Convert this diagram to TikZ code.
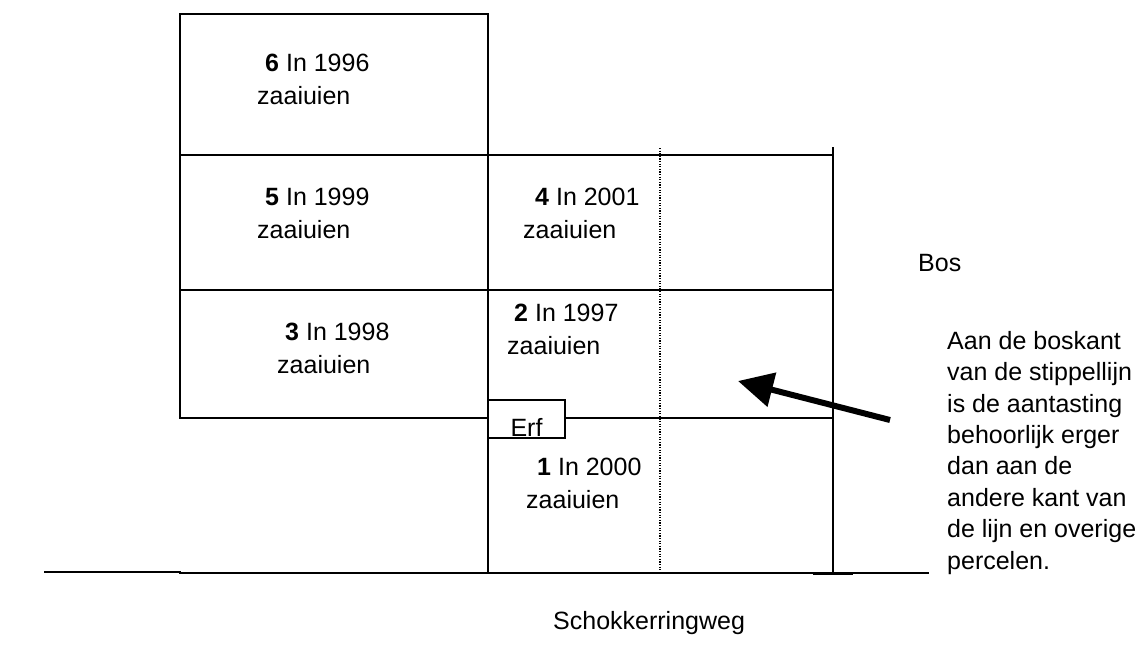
\documentclass[tikz,border=0pt]{standalone}
\usepackage{fontspec}
\setmainfont{Liberation Sans}
\usetikzlibrary{arrows.meta}
\begin{document}
\begin{tikzpicture}[x=1pt,y=-1pt,
  wall/.style={line width=1.6pt, line cap=rect},
  plotlbl/.style={font=\fontsize{25}{30}\selectfont, inner sep=0pt, anchor=base west},
  note/.style={font=\fontsize{25}{31.4}\selectfont, align=left, inner sep=0pt, anchor=base west}]
\useasboundingbox (0,0) rectangle (1142,662);
% parcel outlines
\draw[wall] (180,14) rectangle (488,155);
\draw[wall] (180,155) -- (833,155);
\draw[wall] (180,290) -- (833,290);
\draw[wall] (180,155) -- (180,418) -- (488,418);
\draw[wall] (565,418) -- (833,418);
\draw[wall] (488,155) -- (488,573);
\draw[wall] (833,148) -- (833,573);
% farmyard
\draw[wall] (488,400) rectangle (565,438);
\node[plotlbl, anchor=base] (erf) at (526.5,436) {Erf};
% boundary of the affected strip
\draw[line width=1.3pt, dash pattern=on 1.2pt off 1.4pt] (660,148) -- (660,570);
% road
\draw[wall] (45,572) -- (180,572);
\draw[wall] (180,573) -- (928,573);
\draw[line width=3pt] (813,573) -- (853,573);
% parcel labels
\node[plotlbl] (p6n) at (265,71) {\textbf{6} In 1996};
\node[plotlbl] (p6c) at (257,104) {zaaiuien};
\node[plotlbl] (p5n) at (265,205) {\textbf{5} In 1999};
\node[plotlbl] (p5c) at (257,238) {zaaiuien};
\node[plotlbl] (p4n) at (535,205) {\textbf{4} In 2001};
\node[plotlbl] (p4c) at (523,238) {zaaiuien};
\node[plotlbl] (p3n) at (285,340) {\textbf{3} In 1998};
\node[plotlbl] (p3c) at (277,373) {zaaiuien};
\node[plotlbl] (p2n) at (514,321) {\textbf{2} In 1997};
\node[plotlbl] (p2c) at (507,354) {zaaiuien};
\node[plotlbl] (p1n) at (537,475) {\textbf{1} In 2000};
\node[plotlbl] (p1c) at (526,508) {zaaiuien};
% surroundings
\node[note] (bos) at (918,271) {Bos};
\node[note] (road) at (553,629) {Schokkerringweg};
\node[note, anchor=north west] (remark) at (947,331) {Aan de boskant\\van de stippellijn\\is de aantasting\\behoorlijk erger\\dan aan de\\andere kant van\\de lijn en overige\\percelen.};
% pointer to the affected side
\coordinate (tail) at (890,420);
\coordinate (tip) at (738,381);
\draw[line width=6pt, -{Triangle[length=35pt,width=34pt]}] (tail) -- (tip);
\end{tikzpicture}
\end{document}
